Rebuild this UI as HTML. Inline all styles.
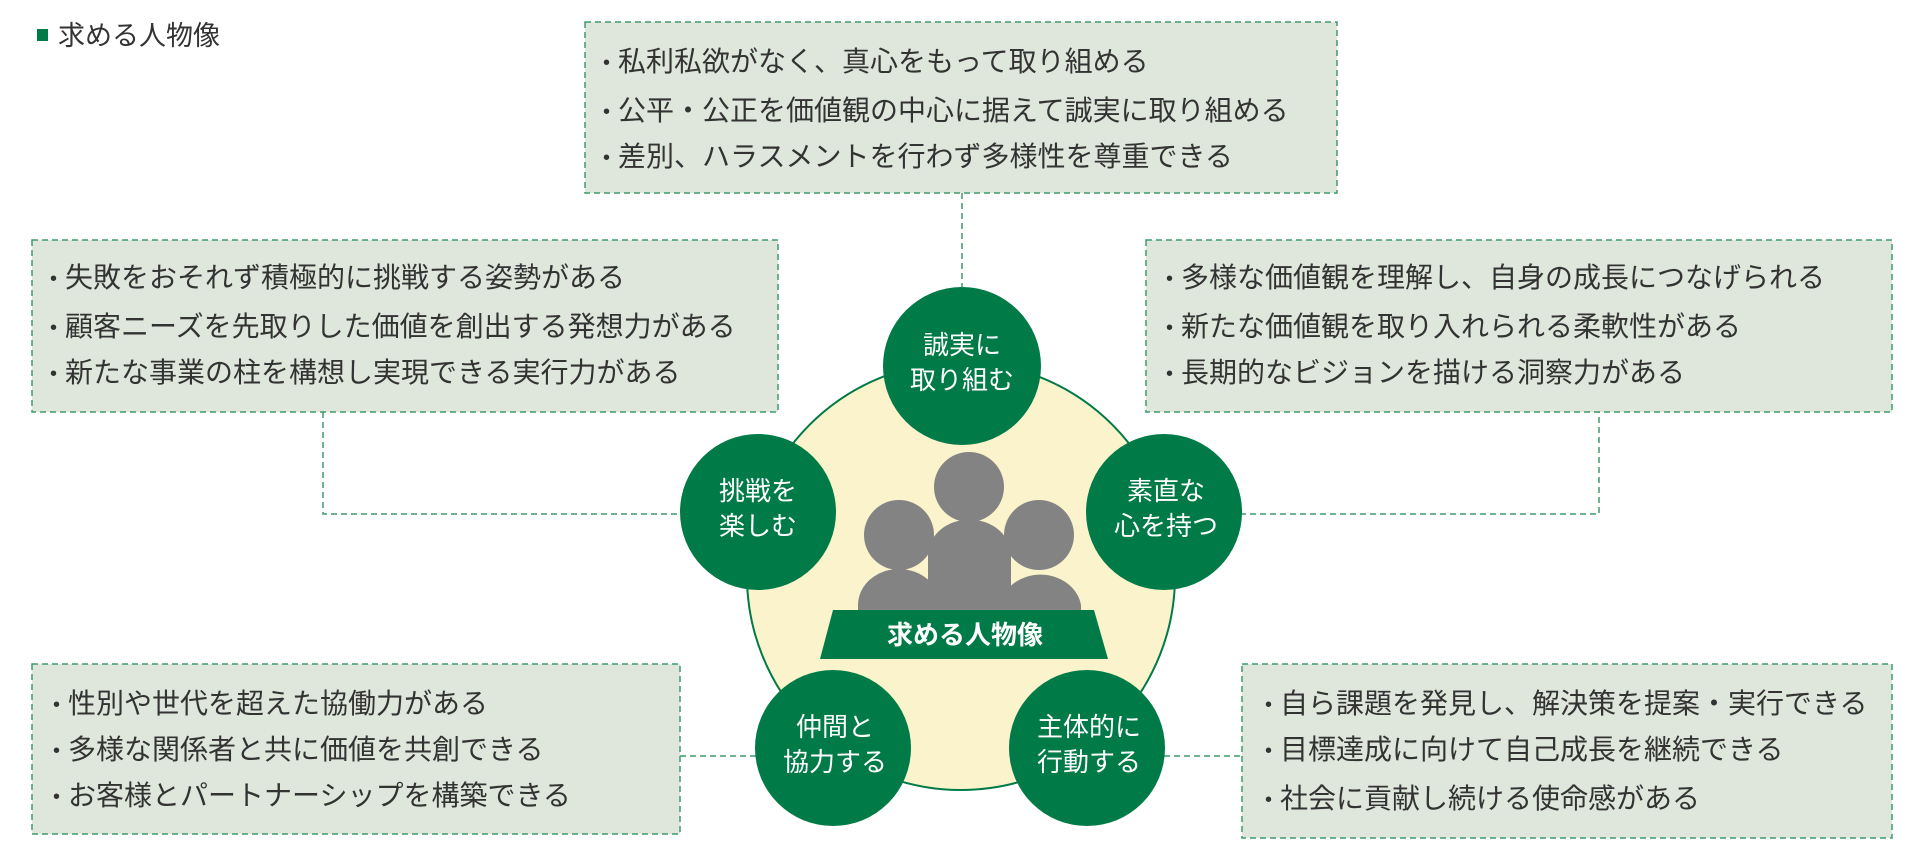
<!DOCTYPE html>
<html><head><meta charset="utf-8"><style>
html,body{margin:0;padding:0;background:#fff;}
svg{display:block;font-family:"Liberation Sans","Noto Sans CJK JP",sans-serif;}
.t{font-size:28px;fill:#333;}
.c{font-size:26px;fill:#fff;text-anchor:middle;}
</style></head><body>
<svg width="1911" height="853" viewBox="0 0 1911 853" xmlns="http://www.w3.org/2000/svg">
<rect x="37" y="29" width="11" height="12" fill="#007a47"/>
<text x="58" y="45" class="t" style="font-size:27px">求める人物像</text>

<g fill="#dfe6dc" stroke="#3f9b6c" stroke-width="1.5" stroke-dasharray="6,4">
<rect x="585" y="22" width="752" height="171"/>
<rect x="32" y="240" width="746" height="172"/>
<rect x="1146" y="240" width="746" height="172"/>
<rect x="32" y="664" width="648" height="170"/>
<rect x="1242" y="664" width="650" height="174"/>
</g>
<g fill="none" stroke="#3f9b6c" stroke-width="1.5" stroke-dasharray="6,4">
<path d="M962 193 V290"/>
<path d="M323 412 V514 H680"/>
<path d="M1240 514 H1599 V412"/>
<path d="M680 756 H758"/>
<path d="M1164 756 H1242"/>
</g>

<g class="t" style="font-size:20px">
<text x="603" y="69">•</text><text x="603" y="118">•</text><text x="603" y="164">•</text>
<text x="50" y="285">•</text><text x="50" y="334">•</text><text x="50" y="380">•</text>
<text x="1166" y="285">•</text><text x="1166" y="334">•</text><text x="1166" y="380">•</text>
<text x="53" y="711">•</text><text x="53" y="757">•</text><text x="53" y="803">•</text>
<text x="1265" y="711">•</text><text x="1265" y="757">•</text><text x="1265" y="806">•</text>
</g>
<g class="t">
<text x="618" y="71">私利私欲がなく、真心をもって取り組める</text>
<text x="618" y="120">公平・公正を価値観の中心に据えて誠実に取り組める</text>
<text x="618" y="166">差別、ハラスメントを行わず多様性を尊重できる</text>
<text x="65" y="287">失敗をおそれず積極的に挑戦する姿勢がある</text>
<text x="65" y="336">顧客ニーズを先取りした価値を創出する発想力がある</text>
<text x="65" y="382">新たな事業の柱を構想し実現できる実行力がある</text>
<text x="1181" y="287">多様な価値観を理解し、自身の成長につなげられる</text>
<text x="1181" y="336">新たな価値観を取り入れられる柔軟性がある</text>
<text x="1181" y="382">長期的なビジョンを描ける洞察力がある</text>
<text x="68" y="713">性別や世代を超えた協働力がある</text>
<text x="68" y="759">多様な関係者と共に価値を共創できる</text>
<text x="68" y="805">お客様とパートナーシップを構築できる</text>
<text x="1280" y="713">自ら課題を発見し、解決策を提案・実行できる</text>
<text x="1280" y="759">目標達成に向けて自己成長を継続できる</text>
<text x="1280" y="808">社会に貢献し続ける使命感がある</text>
</g>

<circle cx="961" cy="576" r="214" fill="#faf3cc" stroke="#007a47" stroke-width="2"/>

<g fill="#838383">
<circle cx="969" cy="487" r="35"/>
<circle cx="899" cy="535" r="35"/>
<circle cx="1039" cy="535" r="35"/>
<path d="M858 610 V605 A41 36 0 0 1 940 605 V610 Z"/>
<path d="M1000 610 V605 A41 36 0 0 1 1081 605 V610 Z"/>
<path d="M928 610 V555 A41 35 0 0 1 1011 555 V610 Z"/>
</g>
<path d="M833 610 H1094 L1108 659 H820 Z" fill="#007a47"/>
<text x="965" y="644" class="c" style="font-weight:bold">求める人物像</text>

<g fill="#007a47">
<circle cx="962" cy="366" r="79"/>
<circle cx="758" cy="512" r="78"/>
<circle cx="1164" cy="512" r="78"/>
<circle cx="833" cy="748" r="78"/>
<circle cx="1087" cy="748" r="78"/>
</g>
<g class="c">
<text x="962" y="354">誠実に</text><text x="962" y="389">取り組む</text>
<text x="758" y="500">挑戦を</text><text x="758" y="535">楽しむ</text>
<text x="1166" y="500">素直な</text><text x="1166" y="535">心を持つ</text>
<text x="835" y="736">仲間と</text><text x="835" y="771">協力する</text>
<text x="1089" y="736">主体的に</text><text x="1089" y="771">行動する</text>
</g>
</svg>
</body></html>
